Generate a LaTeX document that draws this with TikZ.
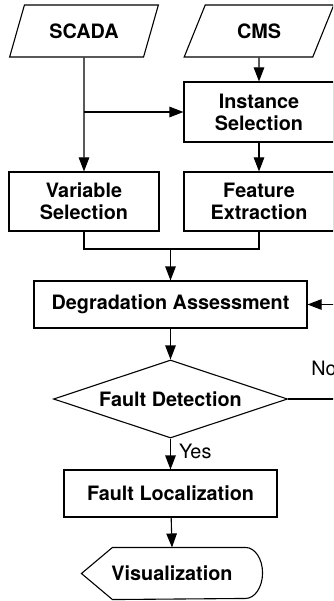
\documentclass[tikz,border=0pt]{standalone}
\usepackage{fontspec}
\setmainfont{TeX Gyre Heros}
\usetikzlibrary{shapes.geometric,arrows.meta}

\begin{document}
\begin{tikzpicture}[x=1pt,y=1pt]
      \tikzset{flow/.style={line width=1.1pt},
        >={Triangle[length=14pt,width=10.5pt]},
        block/.style={draw,
          flow,
          minimum width=#1,
          inner sep=0pt,
          align=center,
          font=\fontsize{19.8}{22}\selectfont\bfseries},
        data input/.style={trapezium,
          trapezium left angle=60,
          trapezium right angle=120,
          trapezium stretches=true,
          draw, flow,
          minimum width=150pt,
          minimum height=52pt,
          inner sep=0pt,
          font=\fontsize{19.8}{22}\selectfont\bfseries},
        decision/.style={diamond,
          aspect=3,
          draw, flow,
          minimum width=234pt,
          minimum height=78pt,
          inner sep=0pt,
          font=\fontsize{19.8}{22}\selectfont\bfseries},
        tag/.style={inner sep=3pt,
          font=\fontsize{19.8}{22}\selectfont}
      }
      \clip (0,0) rectangle (333,-601);
      \node [data input] (scada) at (84,-31) {SCADA};
      \node [data input] (cms) at (259,-31) {CMS};
      \node [block=150pt, minimum height=60pt] (inst) at (259,-112) {Instance\\Selection};
      \node [block=150pt, minimum height=59pt] (var) at (84,-201.5) {Variable\\Selection};
      \node [block=150pt, minimum height=59pt] (feat) at (259,-201.5) {Feature\\Extraction};
      \node [block=273pt, minimum height=47pt] (deg) at (170.5,-304.5) {Degradation Assessment};
      \node [decision] (fd) at (170.5,-399) {Fault Detection};
      \node [block=213pt, minimum height=47pt] (loc) at (170.5,-493.5) {Fault Localization};
      \node [block=180pt, minimum height=51pt, draw=none] (vis) at (172,-573.5) {Visualization};
      \coordinate (tap) at (84,-112);
      \coordinate (join) at (170.5,-249);

      \draw [flow,->] (scada)--(var);
      \draw [flow,->] (tap)--(inst);
      \draw [flow,->] (cms)--(inst);
      \draw [flow,->] (inst)--(feat);
      \draw [flow] (var.south) |- (join) -| (feat.south);
      \draw [flow,->] (join)--(deg);
      \draw [flow,->] (deg)--(fd);
      \draw [flow,->] (fd.east) -- node [tag,above=20pt] {No} ++(72,0) |- (deg.east);
      \draw [flow,->] (fd)-- node [tag,right=5pt,yshift=2.5pt] {Yes} (loc);
      \draw [flow,->] (loc)--(vis.north);
      \draw [flow] (vis.west) -- ([xshift=31pt]vis.north west) -- ([xshift=-17pt]vis.north east)
        arc [start angle=90, end angle=-90, x radius=17pt, y radius=25.5pt]
        -- ([xshift=31pt]vis.south west) -- cycle;
    \end{tikzpicture}
\end{document}
